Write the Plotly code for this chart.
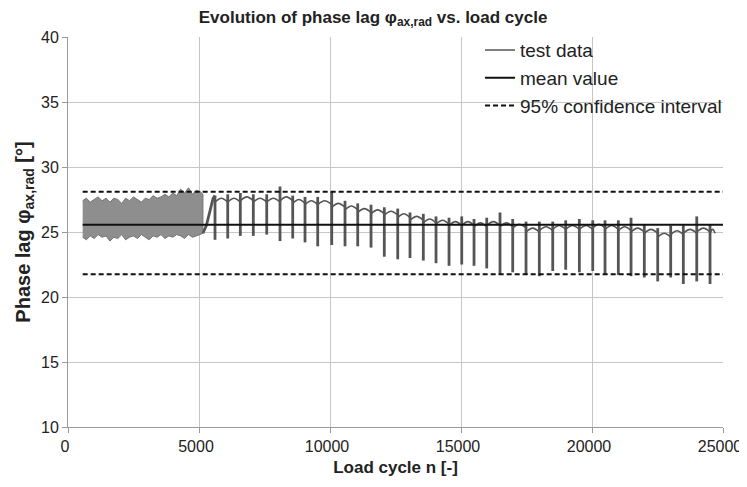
import plotly.graph_objects as go

# ---------------- data ----------------
# dense measurement block at the beginning: upper / lower envelope of the band
band_n = [560, 700, 850, 1000, 1150, 1300, 1450, 1600, 1750, 1900, 2050, 2200, 2350, 2500,
          2650, 2800, 2950, 3100, 3250, 3400, 3550, 3700, 3850, 4000, 4150, 4300, 4450,
          4600, 4750, 4900, 5050, 5150]
band_upper = [27.4, 27.6, 27.3, 27.5, 27.7, 27.4, 27.6, 27.3, 27.6, 27.5, 27.2, 27.6, 27.4, 27.7,
              27.5, 27.3, 27.6, 27.5, 27.8, 27.6, 27.7, 27.9, 27.7, 28.0, 27.8, 28.3, 28.0,
              28.4, 27.9, 28.2, 28.1, 27.9]
band_lower = [24.6, 24.4, 24.7, 24.5, 24.8, 24.6, 24.7, 24.3, 24.6, 24.5, 24.8, 24.4, 24.6, 24.7,
              24.5, 24.8, 24.6, 24.4, 24.7, 24.6, 24.8, 24.5, 24.7, 24.6, 24.8, 24.7, 24.5,
              24.8, 24.6, 24.7, 24.8, 24.9]

# transition from the dense block to the periodic part
transition_n = [5150, 5280, 5540, 5611]
transition_v = [24.9, 25.5, 27.6, 27.8]

# periodic part: spike positions, spike extremes and arc peak of the following segment
spike_n = [5611, 6096, 6577, 7073, 7585, 8092, 8577, 9046, 9531, 10066, 10573, 11058, 11566,
           12073, 12585, 13054, 13562, 14047, 14543, 15028, 15497, 15982, 16489, 16974, 17482,
           17989, 18501, 18996, 19517, 20028, 20497, 21005, 21490, 21997, 22508, 23004, 23486,
           23998, 24505]
spike_low = [24.4, 24.5, 24.7, 24.7, 24.8, 24.3, 24.5, 24.2, 23.9, 24.0, 23.9, 23.9, 23.8,
             23.1, 22.9, 23.0, 22.8, 22.6, 22.4, 22.5, 22.4, 22.2, 21.7, 21.9, 21.7,
             21.6, 22.0, 22.1, 21.9, 22.0, 21.7, 21.7, 21.6, 21.5, 21.2, 21.5, 21.0,
             21.2, 21.0]
spike_high = [27.8, 27.9, 28.0, 27.9, 27.9, 28.5, 27.8, 27.7, 27.7, 28.1, 27.4, 27.2, 27.1,
              26.9, 26.8, 26.5, 26.4, 26.2, 26.1, 26.2, 26.0, 26.1, 26.5, 26.0, 25.8,
              25.8, 25.8, 25.9, 26.0, 25.9, 25.9, 25.9, 26.1, 25.6, 25.3, 25.5, 25.6,
              26.2, 25.6]
arc_peak = [27.6, 27.6, 27.7, 27.6, 27.6, 27.7, 27.5, 27.4, 27.4, 27.2, 27.0, 26.8, 26.7,
            26.6, 26.4, 26.2, 26.0, 25.9, 25.8, 25.8, 25.7, 25.8, 25.7, 25.6, 25.3,
            25.4, 25.5, 25.5, 25.5, 25.6, 25.5, 25.4, 25.3, 25.2, 24.9, 25.1, 25.2,
            25.3, 25.2]
data_end_n = 24700

# statistics
stat_n = [560, 25000]
mean_value = 25.55
ci_upper = 28.1
ci_lower = 21.75

x_ticks = [0, 5000, 10000, 15000, 20000, 25000]
y_ticks = [10, 15, 20, 25, 30, 35, 40]

# ---------------- style ----------------
FONT = "Liberation Sans, Arial, sans-serif"
DATA_COLOR = "#555555"
BAND_COLOR = "#8e8e8e"
ARC_SAG = 0.3
FIG_W, FIG_H = 739, 471

fig = go.Figure()

# arcs between spikes (legend entry for test data)
arc_x, arc_y = [], []
for k in range(len(spike_n)):
    a = spike_n[k]
    b = spike_n[k + 1] if k + 1 < len(spike_n) else data_end_n
    arc_x += [a, (a + b) / 2, b, None]
    arc_y += [arc_peak[k] - ARC_SAG, arc_peak[k], arc_peak[k] - ARC_SAG, None]
fig.add_trace(go.Scatter(x=arc_x, y=arc_y, mode="lines", name="test data",
                         legendgroup="test",
                         line=dict(color=DATA_COLOR, width=1.6, shape="spline"),
                         hoverinfo="skip"))

# dense band
fig.add_trace(go.Scatter(x=band_n + band_n[::-1], y=band_upper + band_lower[::-1],
                         mode="lines", fill="toself", fillcolor=BAND_COLOR,
                         line=dict(color="#747474", width=1),
                         legendgroup="test", showlegend=False, hoverinfo="skip"))

# transition + spikes
sp_x, sp_y = list(transition_n) + [None], list(transition_v) + [None]
for n, lo, hi in zip(spike_n, spike_low, spike_high):
    sp_x += [n, n, None]
    sp_y += [hi, lo, None]
fig.add_trace(go.Scatter(x=sp_x, y=sp_y, mode="lines", legendgroup="test",
                         showlegend=False,
                         line=dict(color=DATA_COLOR, width=2.8), hoverinfo="skip"))

# mean value
fig.add_trace(go.Scatter(x=stat_n, y=[mean_value, mean_value], mode="lines",
                         name="mean value", line=dict(color="#111111", width=2)))

# confidence interval
fig.add_trace(go.Scatter(x=stat_n, y=[ci_upper, ci_upper], mode="lines",
                         name="95% confidence interval", legendgroup="ci",
                         line=dict(color="#111111", width=2, dash="5px,3px")))
fig.add_trace(go.Scatter(x=stat_n, y=[ci_lower, ci_lower], mode="lines",
                         legendgroup="ci", showlegend=False,
                         line=dict(color="#111111", width=2, dash="5px,3px")))

axis_common = dict(showgrid=True, gridcolor="#c6c6c6", gridwidth=1,
                   showline=True, linecolor="#9a9a9a", linewidth=1,
                   ticks="outside", ticklen=5, tickcolor="#9a9a9a",
                   tickfont=dict(family=FONT, size=16, color="#222222"),
                   ticklabeloverflow="allow",
                   zeroline=False, automargin=False)

fig.update_layout(
    width=FIG_W, height=FIG_H,
    margin=dict(l=60, r=24, t=29, b=52, autoexpand=False),
    paper_bgcolor="white", plot_bgcolor="white",
    font=dict(family=FONT, color="#222222"),
    title=dict(text="<b>Evolution of phase lag φ<sub>ax,rad</sub> vs. load cycle</b>",
               x=0.494, xanchor="center", y=0.981, yanchor="middle",
               font=dict(family=FONT, size=17, color="#222222")),
    xaxis=dict(range=[0, 25000], tickvals=x_ticks,
               ticktext=[str(v) for v in x_ticks], ticklabelshift=-3,
               title=dict(text="<b>Load cycle n [-]</b>", standoff=6,
                          font=dict(family=FONT, size=17, color="#222222")),
               **axis_common),
    yaxis=dict(range=[10, 40], tickvals=y_ticks,
               ticktext=[str(v) for v in y_ticks],
               title=dict(text="<b>Phase lag φ<sub>ax,rad</sub> [°]</b>", standoff=5,
                          font=dict(family=FONT, size=20, color="#222222")),
               **axis_common),
    legend=dict(x=0.629, xanchor="left", y=1.015, yanchor="top",
                bgcolor="rgba(0,0,0,0)", borderwidth=0,
                font=dict(family=FONT, size=19, color="#222222"),
                itemwidth=30, tracegroupgap=0),
    showlegend=True,
)

fig.write_html("out.html")
